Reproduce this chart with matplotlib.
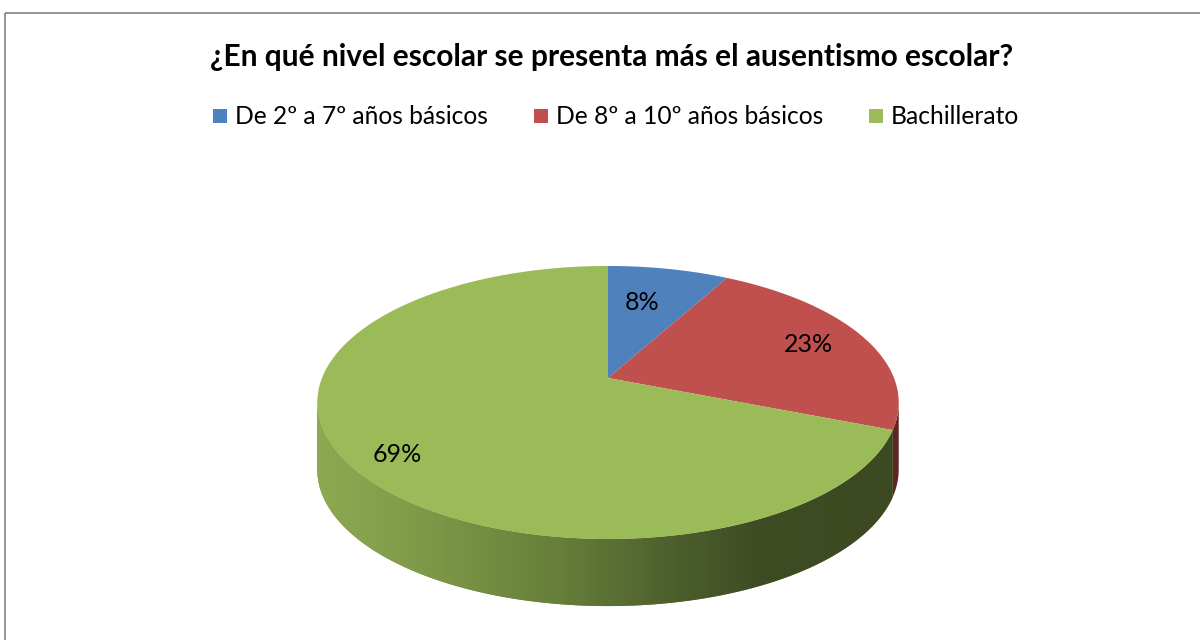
import numpy as np
import matplotlib
matplotlib.use('Agg')
import matplotlib.pyplot as plt
from matplotlib.patches import Polygon, Rectangle
from matplotlib.colors import LinearSegmentedColormap

# ---------------- data ----------------
title = '¿En qué nivel escolar se presenta más el ausentismo escolar?'
categories = ['De 2º a 7º años básicos', 'De 8º a 10º años básicos', 'Bachillerato']
values = [8, 23, 69]
pct_labels = ['8%', '23%', '69%']
colors = ['#4F81BD', '#C0504D', '#9BBB59']
side_colors = ['#2E4A70', '#5E2524', '#6A833A']

FONT = ['Lato', 'DejaVu Sans']

W, H = 1200, 640
fig = plt.figure(figsize=(12, 6.4), dpi=100)
ax = fig.add_axes([0, 0, 1, 1])
ax.set_xlim(0, W)
ax.set_ylim(H, 0)
ax.axis('off')

# chart frame (cropped Excel chart area)
ax.add_patch(Rectangle((4.5, 12.5), 1300, 700, fill=False, edgecolor='#8C8C8C', lw=1.3))

# ---------------- 3D pie projection ----------------
CX, CY = 608, 378
A, B, K = 286, -64.3, 0.1795
THICK = 67


def proj(r, th, drop=0.0):
    x = r * np.sin(th)
    y = r * np.cos(th)
    d = 1 + K * y
    return CX + A * x / d, (CY + B * y) / d + drop


fr = np.array(values, dtype=float) / np.sum(values)
edges = np.concatenate([[0], np.cumsum(fr)]) * 2 * np.pi
th_r = np.arccos(-K)           # right silhouette
th_l = 2 * np.pi - th_r        # left silhouette

# side walls
side_cmap = LinearSegmentedColormap.from_list(
    'side', [(0.0, '#8DAA52'), (0.18, '#7E9A48'), (0.42, '#667E3A'),
             (0.62, '#4C5E2C'), (0.76, '#3E4C24'), (1.0, '#3C4922')])
for i in range(len(values)):
    a0 = max(edges[i], th_r)
    a1 = min(edges[i + 1], th_l)
    if a1 <= a0:
        continue
    t = np.linspace(a0, a1, 200)
    xt, yt = proj(1, t)
    xb, yb = proj(1, t[::-1], THICK)
    poly = Polygon(np.column_stack([np.r_[xt, xb], np.r_[yt, yb]]),
                   closed=True, facecolor=side_colors[i], edgecolor='none')
    ax.add_patch(poly)
    if i == len(values) - 1:
        grad = np.linspace(0, 1, 512).reshape(1, -1)
        im = ax.imshow(grad, cmap=side_cmap, extent=[316, 900, 620, 380],
                       aspect='auto', zorder=2)
        im.set_clip_path(poly)

# top faces
for i in range(len(values)):
    t = np.linspace(edges[i], edges[i + 1], 300)
    xt, yt = proj(1, t)
    pts = np.column_stack([np.r_[CX, xt], np.r_[CY, yt]])
    ax.add_patch(Polygon(pts, closed=True, facecolor=colors[i],
                         edgecolor='none', zorder=3))

# data labels
label_r = [0.66, 0.78, 0.84]
label_shift = [(-8, 0), (0, 0), (6, 8)]
for i in range(len(values)):
    mid = (edges[i] + edges[i + 1]) / 2
    lx, ly = proj(label_r[i], mid)
    ax.text(lx + label_shift[i][0], ly + label_shift[i][1], pct_labels[i],
            ha='center', va='center', fontsize=18,
            family=FONT, color='black', zorder=5)

# title
ax.text(612, 57, title, ha='center', va='center', fontsize=21.5,
        fontweight='bold', family=FONT, color='black')

# legend
fig.canvas.draw()
rend = fig.canvas.get_renderer()
leg_fs = 17.7
widths = []
for c in categories:
    tt = ax.text(0, 0, c, fontsize=leg_fs, family=FONT)
    bb = tt.get_window_extent(rend)
    widths.append(bb.width)
    tt.remove()
msize, mgap, colgap = 14, 8, 46
total = sum(msize + mgap + w for w in widths) + colgap * (len(categories) - 1)
x = 616 - total / 2
ly = 116
for i, c in enumerate(categories):
    ax.add_patch(Rectangle((x, ly - msize / 2), msize, msize,
                           facecolor=colors[i], edgecolor='none'))
    ax.text(x + msize + mgap, ly, c, fontsize=leg_fs, family=FONT,
            ha='left', va='center', color='black')
    x += msize + mgap + widths[i] + colgap

fig.savefig('out.png', dpi=100, facecolor='white')
